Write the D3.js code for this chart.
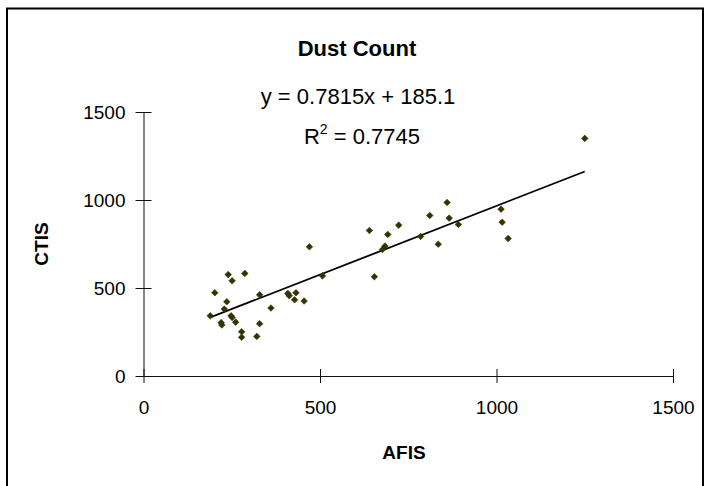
<!DOCTYPE html>
<html>
<head>
<meta charset="utf-8">
<script src="https://cdn.jsdelivr.net/npm/d3@7"></script>
<style>
  body { margin: 0; background: #fff; }
  text { font-family: "Liberation Sans", Arial, sans-serif; }
</style>
</head>
<body>
<svg id="chart" width="708" height="486"></svg>
<script>
// data
const afis = [240, 251, 287, 202, 236, 229, 189, 329, 361, 220, 222, 248, 251, 261, 329, 278, 278, 321,
  470, 507, 409, 413, 432, 428, 455, 640, 692, 723, 684, 677, 654, 785, 811, 835, 860, 866, 892,
  1013, 1016, 1033, 1250];
const ctis = [576, 541, 583, 473, 422, 380, 342, 461, 386, 303, 290, 342, 333, 306, 297, 251, 220, 225,
  734, 569, 469, 456, 473, 433, 426, 827, 804, 857, 738, 719, 564, 793, 912, 749, 986, 897, 861,
  948, 874, 781, 1350];
const xTicks = [0, 500, 1000, 1500];
const yTicks = [0, 500, 1000, 1500];
const slope = 0.7815;
const intercept = 185.1;
const rSquared = "0.7745";

const plot = { left: 143.5, right: 673, top: 112, bottom: 376 };

const svg = d3.select("#chart");

// outer chart frame
svg.append("rect")
  .attr("x", 7).attr("y", 8.5)
  .attr("width", 696).attr("height", 490)
  .attr("fill", "#fff")
  .attr("stroke", "#000")
  .attr("stroke-width", 2);

const x = d3.scaleLinear().domain([0, 1500]).range([plot.left, plot.right]);
const y = d3.scaleLinear().domain([0, 1500]).range([plot.bottom, plot.top]);

// title
svg.append("text")
  .attr("x", 357).attr("y", 56)
  .attr("text-anchor", "middle")
  .attr("font-size", 22).attr("font-weight", 700)
  .text("Dust Count");

// x axis
const gx = svg.append("g")
  .attr("transform", `translate(0,${plot.bottom})`)
  .call(d3.axisBottom(x).tickValues(xTicks).tickFormat(d3.format("d")).tickSizeOuter(0));
gx.select(".domain").attr("stroke", "#111");
gx.selectAll(".tick line").attr("y1", -7).attr("y2", 7).attr("stroke", "#111");
gx.selectAll(".tick text")
  .attr("y", 25).attr("dy", "0.71em")
  .attr("font-size", 19).attr("font-family", "Liberation Sans, Arial, sans-serif")
  .attr("fill", "#000");

// y axis
const gy = svg.append("g")
  .attr("transform", `translate(${plot.left},0)`)
  .call(d3.axisLeft(y).tickValues(yTicks).tickFormat(d3.format("d")).tickSizeOuter(0));
gy.select(".domain").attr("stroke", "#111");
gy.selectAll(".tick line").attr("x1", -8).attr("x2", 8).attr("stroke", "#111");
gy.selectAll(".tick text")
  .attr("x", -18).attr("dy", "0.34em")
  .attr("font-size", 19).attr("font-family", "Liberation Sans, Arial, sans-serif")
  .attr("fill", "#000");

// axis titles
svg.append("text")
  .attr("x", 404).attr("y", 459)
  .attr("text-anchor", "middle")
  .attr("font-size", 19).attr("font-weight", 700)
  .text("AFIS");

svg.append("text")
  .attr("transform", `translate(48,244) rotate(-90)`)
  .attr("text-anchor", "middle")
  .attr("font-size", 19).attr("font-weight", 700)
  .text("CTIS");

// linear trendline across the data range
const xMin = d3.min(afis), xMax = d3.max(afis);
svg.append("line")
  .attr("x1", x(xMin)).attr("y1", y(slope * xMin + intercept))
  .attr("x2", x(xMax)).attr("y2", y(slope * xMax + intercept))
  .attr("stroke", "#000")
  .attr("stroke-width", 1.8);

// diamond markers
const pts = afis.map((a, i) => ({ a, c: ctis[i] }));
const r = 3.3;
svg.append("g")
  .selectAll("path")
  .data(pts)
  .join("path")
  .attr("d", d => {
    const cx = x(d.a), cy = y(d.c);
    return `M${cx},${cy - r}L${cx + r},${cy}L${cx},${cy + r}L${cx - r},${cy}Z`;
  })
  .attr("fill", "#333300")
  .attr("stroke", "#333300")
  .attr("stroke-width", 0.6);

// trendline equation
const eq = svg.append("g").attr("font-size", 22);
eq.append("text")
  .attr("x", 358).attr("y", 104)
  .attr("text-anchor", "middle")
  .text(`y = ${slope}x + ${intercept}`);
const r2 = eq.append("text")
  .attr("x", 362).attr("y", 144)
  .attr("text-anchor", "middle");
r2.append("tspan").text("R");
r2.append("tspan").attr("font-size", 14).attr("dy", -10).text("2");
r2.append("tspan").attr("dy", 10).text(` = ${rSquared}`);
</script>
</body>
</html>
